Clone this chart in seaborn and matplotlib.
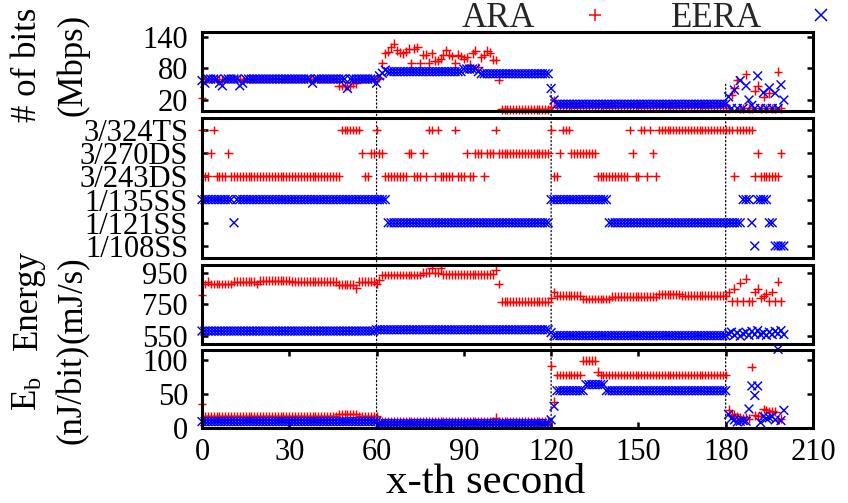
import numpy as np
import pandas as pd
import matplotlib
matplotlib.use("Agg")
import matplotlib.pyplot as plt
from matplotlib.lines import Line2D
from matplotlib.patches import ConnectionPatch
import seaborn as sns

# ---------------------------------------------------------------- data
series_names = ["ARA", "EERA"]
mode_labels = ["1/108SS", "1/121SS", "1/135SS", "3/243DS", "3/270DS", "3/324TS"]
phase_marks = [60, 120, 180]

# throughput per second (Mbps)
ara_bits = ([24] + [60] * 5 + [57] * 2 + [60] * 6 + [58] + [60] * 32
            + [47] * 5 + [52] * 2 + [60] * 7
            + [62, 90, 109, 112, 120, 127, 115, 110, 109, 112,
               118, 90, 118, 120, 90, 106, 106, 91, 109, 95,
               95, 99, 106, 115, 106, 104, 90, 106, 104, 99,
               101, 87, 109, 114, 83, 101, 106, 114, 110, 97, 96]
            + [59] + [2] * 17 + [6, 20] + [10] * 59
            + [4, 30, 42, 58, 4, 4, 69, 4, 4, 38,
               47, 4, 26, 4, 33, 4, 4, 74, 4])
eera_bits = ([57, 52] + [60] * 4 + [52, 47] + [60] * 5 + [47, 52] + [60] * 23
             + [52] + [60] * 11 + [42] + [60] * 9 + [52]
             + [66, 71, 77] + [74] * 26 + [79] * 5 + [74] + [70] * 24
             + [42, 20] + [12] * 59
             + [26, 4, 39, 4, 57, 4, 47, 20, 10, 4,
                66, 4, 34, 4, 43, 4, 33, 4, 49, 20])

# selected transmission mode (index into mode_labels)
ara_mode = ([5, 3, 3, 4, 5] + [3] * 4 + [4] + [3] * 38 + [5] * 7 + [4] + [3] * 2
            + [4] * 2 + [5] + [4] * 2 + [3] * 8 + [4] * 2 + [3] * 3 + [4, 3]
            + [5] * 2 + [3, 5] + [3] * 5 + [5] + [3] * 3 + [4] + [3] * 2 + [4] * 3
            + [3] + [4] * 3 + [5] + [4] * 18 + [5] + [3] * 2 + [4] + [5] * 3
            + [4] * 9 + [3] * 11 + [5, 4] + [3] * 2 + [5] * 2 + [3, 5, 4, 3]
            + [5] * 26 + [3] + [5] * 6 + [3, 4] + [3] * 7 + [4])
eera_mode = ([2] * 11 + [1] + [2] * 52 + [1] * 56 + [2] * 20 + [1] * 46
             + [2] * 3 + [1, 0] + [2] * 4 + [1] * 2 + [0] * 4)

# energy per second (mJ/s)
ara_energy = ([810, 880, 895] + [880] * 8 + [895] * 8 + [880] + [901] * 11 + [895] * 16
              + [875] * 6 + [853] + [895] * 6 + [880]
              + [905] + [937] * 14 + [950] * 3 + [980] + [950] * 2 + [980] + [940] * 18
              + [969, 880] + [768] * 17
              + [791, 827] + [805] * 9 + [785] * 10 + [800] * 16 + [815] * 8 + [805] * 16
              + [829, 770, 850, 770, 888, 770, 914, 770, 770, 829,
                 850, 791, 802, 819, 770, 829, 770, 893, 770])
eera_energy = ([582] * 60 + [590] * 60 + [572] + [553] * 60
               + [565, 575, 555, 570, 550, 565, 575, 555, 580, 560,
                  585, 560, 570, 555, 575, 560, 580, 565, 585, 560])

# energy per bit (nJ/bit)
ara_eb = ([35] + [17] * 46 + [20] * 7 + [17] * 7 + [9.5] * 40 + [15] + [9.5] * 18
          + [92, 39] + [78] * 9 + [99] * 5 + [83] + [78] * 44
          + [27, 19, 20, 17, 15, 14, 16, 14, 90, 19,
             17, 18, 28, 26, 24, 25, 24, 12, 14])
eera_eb = ([9.5] * 61 + [6.5] * 59 + [12, 32] + [55] * 10 + [64] * 7 + [55] * 42
           + [20, 14, 12, 9, 10, 11, 10, 28, 62, 48,
              62, 8, 17, 14, 15, 17, 12, 116, 11, 26])

for arr in (ara_bits, ara_mode, ara_energy, ara_eb):
    assert len(arr) == 200, len(arr)
for arr in (eera_bits, eera_mode, eera_energy, eera_eb):
    assert len(arr) == 201, len(arr)


def long_frame(ara, eera):
    return pd.concat([
        pd.DataFrame({"second": np.arange(len(ara)), "value": ara, "series": "ARA"}),
        pd.DataFrame({"second": np.arange(len(eera)), "value": eera, "series": "EERA"}),
    ], ignore_index=True)


# ---------------------------------------------------------------- style
sns.set_theme(style="white")
plt.rcParams["font.family"] = ["Liberation Serif", "DejaVu Serif"]
plt.rcParams["mathtext.fontset"] = "custom"
plt.rcParams["mathtext.rm"] = "Liberation Serif"
plt.rcParams["mathtext.it"] = "Liberation Serif:italic"

palette = {"ARA": "#ff0000", "EERA": "#0000ff"}
markers = {"ARA": "+", "EERA": "x"}
TICK_FS = 22
LABEL_FS = 25

fig = plt.figure(figsize=(8.48, 5.03), dpi=100)
left, width = 0.2382, 0.7205
ax_bits = fig.add_axes([left, 0.7803, width, 0.1566])
ax_mode = fig.add_axes([left, 0.4879, width, 0.2767])
ax_energy = fig.add_axes([left, 0.3161, width, 0.1571])
ax_eb = fig.add_axes([left, 0.1491, width, 0.1551])

panels = [
    (ax_bits, long_frame(ara_bits, eera_bits), (0, 150), [20, 80, 140], None),
    (ax_mode, long_frame(ara_mode, eera_mode), (-0.5, 5.5), list(range(6)), mode_labels),
    (ax_energy, long_frame(ara_energy, eera_energy), (500, 1000), [550, 750, 950], None),
    (ax_eb, long_frame(ara_eb, eera_eb), (0, 115), [0, 50, 100], None),
]

for ax, frame, ylim, yticks, yticklabels in panels:
    sns.scatterplot(data=frame, x="second", y="value", hue="series", style="series",
                    palette=palette, markers=markers, s=40, linewidth=1.05,
                    legend=False, clip_on=False, ax=ax)
    ax.set_facecolor("none")
    ax.set_xlim(0, 210)
    ax.set_ylim(*ylim)
    ax.set_yticks(yticks)
    if yticklabels is not None:
        ax.set_yticklabels(yticklabels)
    ax.set_xlabel("")
    ax.set_ylabel("")
    for sp in ax.spines.values():
        sp.set_visible(True)
        sp.set_color("black")
        sp.set_linewidth(2.2)
    ax.tick_params(axis="y", direction="in", left=True, right=True,
                   length=4.5, width=1.8, color="black",
                   labelsize=TICK_FS, pad=10, labelcolor="black")
    ax.tick_params(axis="x", bottom=False, top=False, labelbottom=False)

ax_eb.set_xticks(np.arange(0, 211, 30))
ax_eb.tick_params(axis="x", direction="in", bottom=True, top=True, labelbottom=True,
                  length=4.5, width=1.8, color="black",
                  labelsize=TICK_FS, pad=7, labelcolor="black")
ax_eb.set_xlabel("x-th second", fontsize=31, color="black", ha="center", va="center")
ax_eb.xaxis.set_label_coords(0.465, -0.70)

ylabels = [(ax_bits, "# of bits\n(Mbps)", 0.58),
           (ax_energy, "Energy\n(mJ/s)", 0.56),
           (ax_eb, "E$_\\mathrm{b}$\n(nJ/bit)", 0.44)]
for ax, text, ypos in ylabels:
    ax.set_ylabel(text, fontsize=LABEL_FS, rotation=90, ha="center", va="center",
                  multialignment="center", linespacing=1.45, color="black")
    ax.yaxis.set_label_coords(-0.248, ypos)

# dotted phase boundaries running down through all panels
for s in phase_marks:
    con = ConnectionPatch(xyA=(s, 50), coordsA=ax_bits.transData,
                          xyB=(s, 0), coordsB=ax_eb.transData,
                          linestyle=(0, (1, 2)), linewidth=0.9, color="black", zorder=-1)
    fig.add_artist(con)

handles = [Line2D([], [], linestyle="none", marker=markers[n], color=palette[n],
                  markersize=8.5, markeredgewidth=1.1) for n in series_names]
fig.legend(handles, series_names, ncol=2, markerfirst=False, frameon=False,
           fontsize=LABEL_FS, handlelength=1.6, handletextpad=0.9, columnspacing=1.4,
           loc="center", bbox_to_anchor=(0.773, 0.963), borderaxespad=0, borderpad=0)

fig.savefig("out.png", dpi=100)
